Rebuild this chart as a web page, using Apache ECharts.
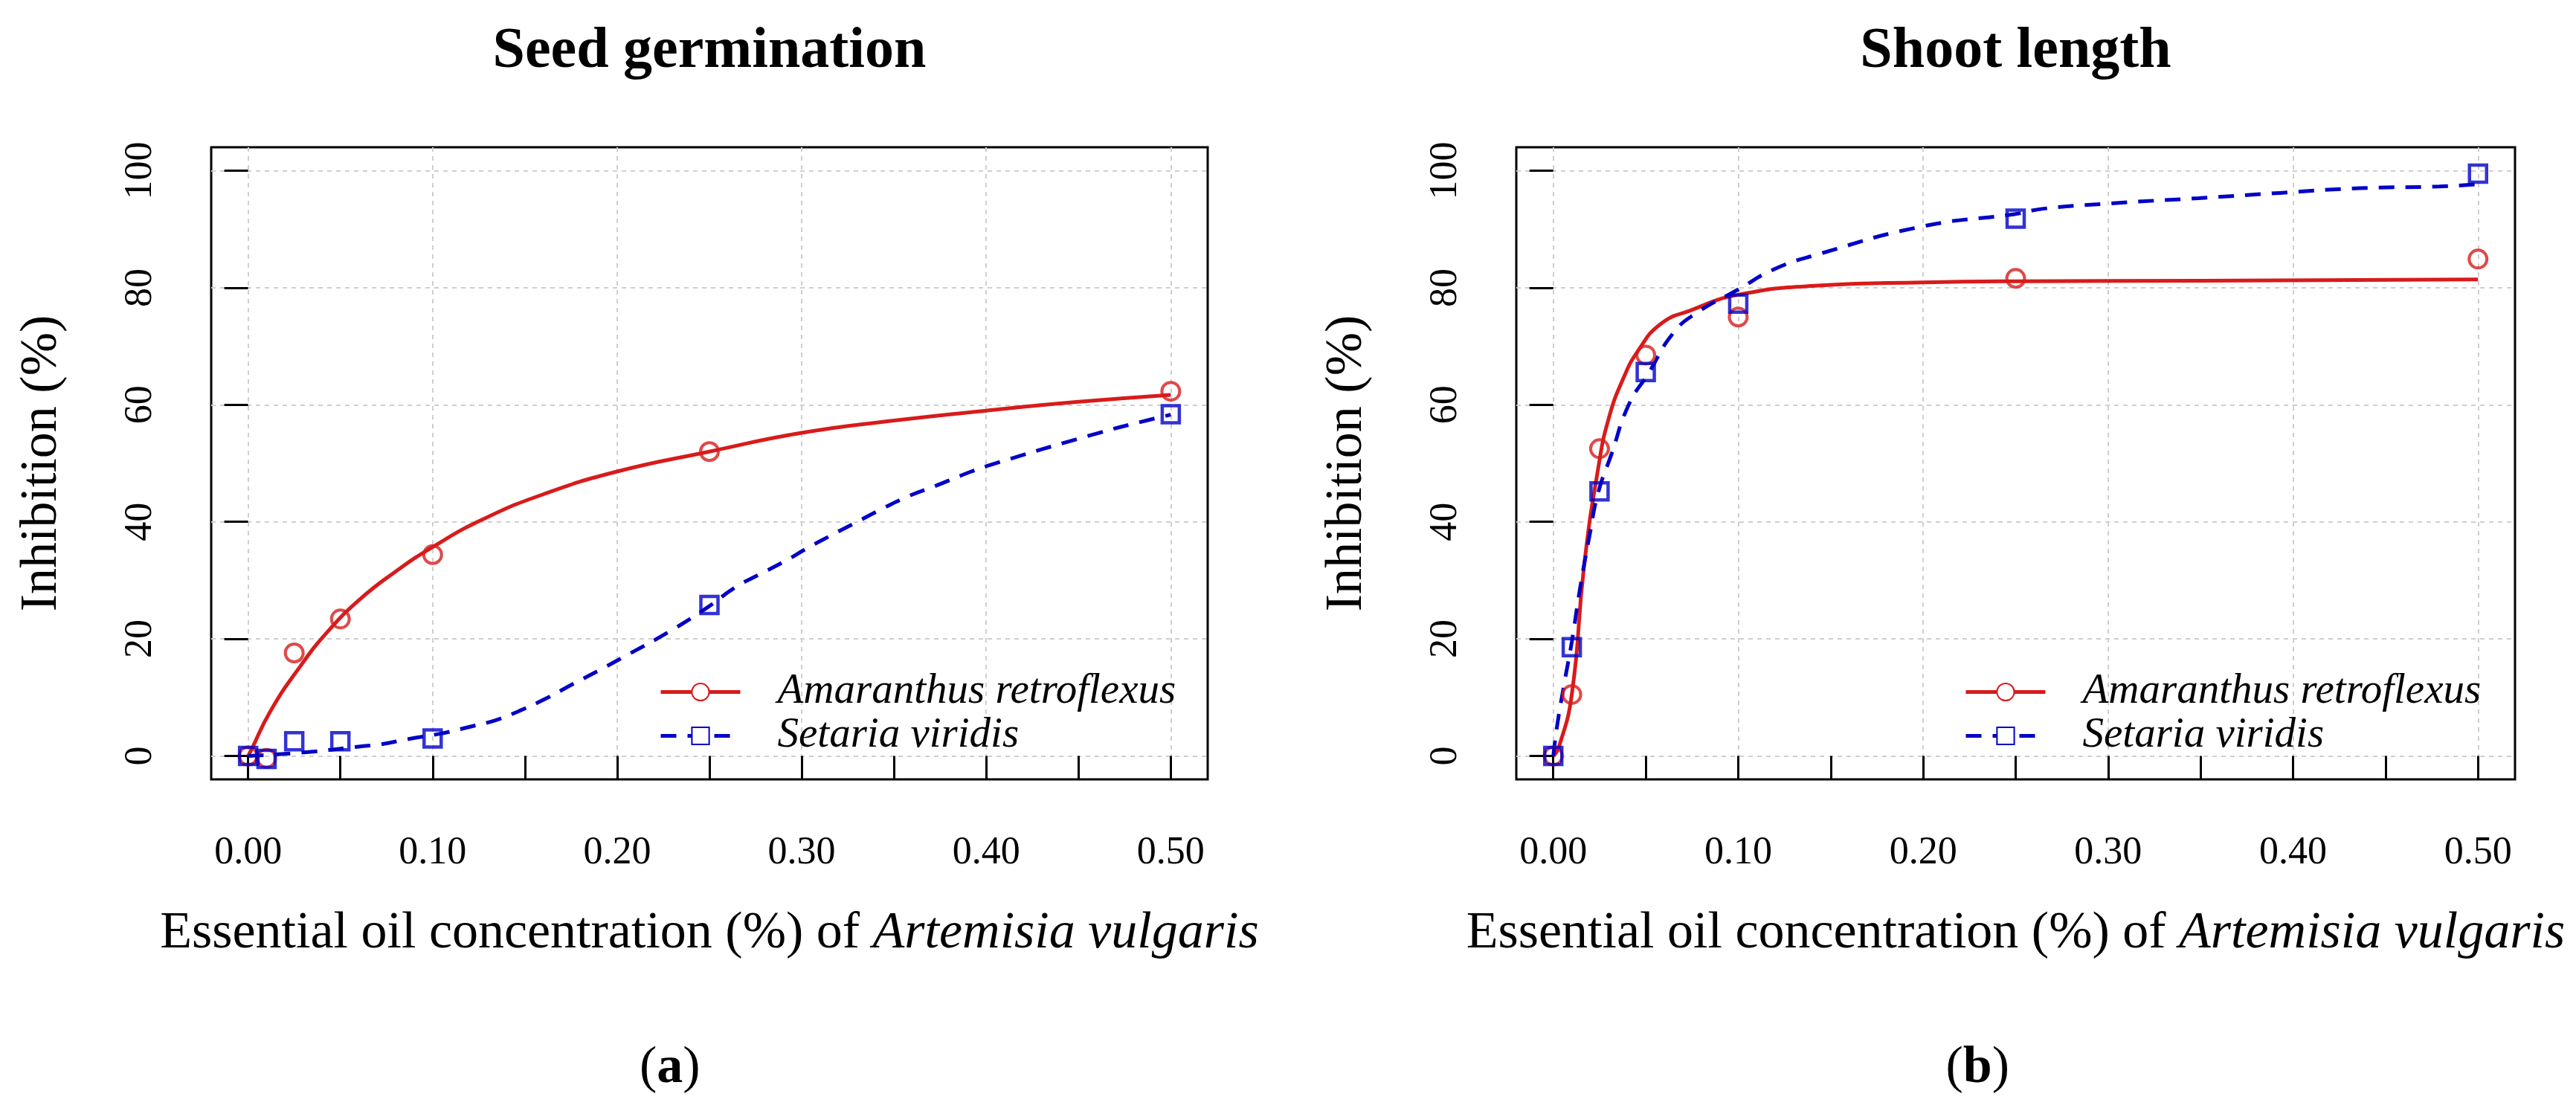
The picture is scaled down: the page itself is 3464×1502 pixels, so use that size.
<!DOCTYPE html>
<html>
<head>
<meta charset="utf-8">
<script src="https://cdn.jsdelivr.net/npm/echarts@6/dist/echarts.min.js"></script>
<style>
html,body{margin:0;padding:0;background:#fff;}
#chartID{width:3464px;height:1502px;}
</style>
</head>
<body>
<div id="chartID"></div>
<script>
//施用浓度 (%)
var doseArray=[0, 0.01, 0.025, 0.05, 0.1, 0.25, 0.5];
//(a) 种子萌发抑制率 实测点
var germAmaArray=[0, -0.4, 17.6, 23.4, 34.4, 52.0, 62.3];
var germSetArray=[0, -0.5, 2.5, 2.5, 3.0, 25.8, 58.4];
//(b) 茎长抑制率 实测点
var shootAmaArray=[0, 10.5, 52.5, 68.5, 75.0, 81.6, 84.9];
var shootSetArray=[0, 18.6, 45.2, 65.6, 77.3, 91.8, 99.5];

//拟合曲线
var germAmaFitX=[0, 0.0015, 0.012, 0.028, 0.043, 0.06, 0.079, 0.1, 0.127, 0.159, 0.2, 0.25, 0.3, 0.35, 0.4, 0.45, 0.5];
var germAmaFitY=[0, 0.9, 7.6, 15.2, 21.2, 26.6, 31.3, 35.7, 40.4, 44.6, 48.6, 52.0, 55.2, 57.3, 59.0, 60.5, 61.7];
var germSetFitX=[0, 0.03, 0.06, 0.072, 0.087, 0.104, 0.119, 0.134, 0.147, 0.162, 0.176, 0.19, 0.204, 0.228, 0.249, 0.264, 0.277, 0.291, 0.303, 0.316, 0.33, 0.344, 0.358, 0.373, 0.387, 0.401, 0.46, 0.488, 0.5];
var germSetFitY=[0, 0.6, 1.6, 2.0, 2.9, 3.8, 4.9, 6.1, 7.7, 9.9, 12.3, 14.6, 17.0, 21.2, 25.4, 28.8, 31.0, 33.3, 35.5, 37.7, 40.0, 42.3, 44.4, 46.2, 48.0, 49.6, 55.1, 57.4, 58.3];
var shootAmaFitX=[0, 0.003, 0.01, 0.0166, 0.0243, 0.03, 0.038, 0.0458, 0.058, 0.074, 0.1, 0.145, 0.2, 0.25, 0.35, 0.5];
var shootAmaFitY=[0, 1.5, 10.5, 32.3, 49.2, 57.7, 64.6, 69.2, 73.8, 76.1, 78.8, 80.4, 80.9, 81.1, 81.2, 81.4];
var shootSetFitX=[0, 0.002, 0.006, 0.01, 0.0144, 0.0198, 0.0243, 0.0314, 0.0408, 0.0515, 0.065, 0.078, 0.1, 0.119, 0.143, 0.2, 0.25, 0.265, 0.306, 0.349, 0.393, 0.436, 0.479, 0.5];
var shootSetFitY=[0, 5.0, 12.5, 19.5, 28.5, 38.0, 45.0, 51.5, 60.0, 65.4, 72.3, 75.8, 79.7, 83.1, 85.7, 90.5, 92.6, 93.5, 94.5, 95.3, 96.2, 97.0, 97.3, 97.7];

var xTickArray=[0, 0.05, 0.1, 0.15, 0.2, 0.25, 0.3, 0.35, 0.4, 0.45, 0.5];
var xLabelArray=[0, 0.1, 0.2, 0.3, 0.4, 0.5];
var yTickArray=[0, 20, 40, 60, 80, 100];
var speciesArray=["Amaranthus retroflexus", "Setaria viridis"];
var panelTitleArray=["Seed germination", "Shoot length"];
var panelTagArray=["a", "b"];

var FONT="'Liberation Serif', 'Times New Roman', serif";
var RED="#d81b1b";
var BLUE="#0000c8";

function pairs(xs, ys){
	var out=[];
	for(var i=0;i<xs.length;i++){ out.push([xs[i], ys[i]]); }
	return out;
}

var panelData=[
	{ama:germAmaArray, set:germSetArray, amaFit:pairs(germAmaFitX, germAmaFitY), setFit:pairs(germSetFitX, germSetFitY)},
	{ama:shootAmaArray, set:shootSetArray, amaFit:pairs(shootAmaFitX, shootAmaFitY), setFit:pairs(shootSetFitX, shootSetFitY)}
];
var gridLeft=[284, 2039];
var gridWidth=[1340, 1343];

var chart=echarts.init(document.getElementById('chartID'));
var grids=[], xAxes=[], yAxes=[], series=[], titles=[], legends=[], graphics=[];

for(var p=0;p<2;p++){
	var left=gridLeft[p];
	var center=left+gridWidth[p]/2;
	grids.push({left:left, top:198, width:gridWidth[p], height:850, show:true, borderColor:'#000', borderWidth:3, backgroundColor:'transparent'});
	//主 x 轴: 刻度与标签
	xAxes.push({
		type:'value', gridIndex:p, min:-0.02, max:0.52, position:'bottom',
		name:'{n|Essential oil concentration (%) of }{i|Artemisia vulgaris}',
		nameLocation:'middle', nameGap:173,
		nameTextStyle:{
			rich:{
				n:{fontFamily:FONT, fontSize:70, color:'#000', lineHeight:70},
				i:{fontFamily:FONT, fontSize:70, fontStyle:'italic', color:'#000', lineHeight:70}
			}
		},
		axisLine:{show:false},
		axisTick:{show:true, inside:false, length:32, customValues:xTickArray, lineStyle:{color:'#000', width:3}},
		axisLabel:{show:true, customValues:xLabelArray, margin:73, fontFamily:FONT, fontSize:52, color:'#000',
			formatter:function(v){ return Number(v).toFixed(2); }},
		splitLine:{show:false}
	});
	//辅助 x 轴: 只画网格线
	xAxes.push({
		type:'value', gridIndex:p, min:-0.02, max:0.52, interval:0.1, position:'top',
		axisLine:{show:false},
		axisTick:{show:false, customValues:xLabelArray},
		axisLabel:{show:false},
		splitLine:{show:true, lineStyle:{color:'#cfcfcf', width:2, type:[6,6]}}
	});
	yAxes.push({
		type:'value', gridIndex:p, min:-4, max:104, interval:20,
		name:'Inhibition (%)', nameLocation:'middle', nameGap:192,
		nameTextStyle:{fontFamily:FONT, fontSize:70, color:'#000'},
		axisLine:{show:false},
		axisTick:{show:true, inside:false, length:32, customValues:yTickArray, lineStyle:{color:'#000', width:3}},
		axisLabel:{show:true, customValues:yTickArray, rotate:90, margin:69, fontFamily:FONT, fontSize:52, color:'#000'},
		splitLine:{show:true, lineStyle:{color:'#cfcfcf', width:2, type:[6,6]}}
	});

	var d=panelData[p];
	series.push({
		name:speciesArray[0], type:'line', xAxisIndex:2*p, yAxisIndex:p,
		data:d.amaFit, smooth:true, showSymbol:false, symbol:'emptyCircle',
		itemStyle:{color:RED}, lineStyle:{color:RED, width:5, type:'solid'}, silent:true, z:3
	});
	series.push({
		name:speciesArray[0], type:'scatter', xAxisIndex:2*p, yAxisIndex:p,
		data:pairs(doseArray, d.ama), symbol:'circle', symbolSize:24,
		itemStyle:{color:'rgba(0,0,0,0)', borderColor:RED, borderWidth:4}, silent:true, z:4
	});
	series.push({
		name:speciesArray[1], type:'line', xAxisIndex:2*p, yAxisIndex:p,
		data:d.setFit, smooth:true, showSymbol:false, symbol:'emptyRect',
		itemStyle:{color:BLUE}, lineStyle:{color:BLUE, width:5, type:[21,15]}, silent:true, z:3
	});
	series.push({
		name:speciesArray[1], type:'scatter', xAxisIndex:2*p, yAxisIndex:p,
		data:pairs(doseArray, d.set), symbol:'rect', symbolSize:23,
		itemStyle:{color:'rgba(0,0,0,0)', borderColor:BLUE, borderWidth:4.5}, silent:true, z:4
	});

	titles.push({
		text:panelTitleArray[p], left:center, top:31, textAlign:'center', padding:0,
		textStyle:{fontFamily:FONT, fontSize:78, fontWeight:'bold', color:'#000'}
	});
	legends.push({
		data:speciesArray, orient:'vertical', left:left+597, top:897, padding:5,
		itemWidth:107, itemHeight:29, itemGap:2, selectedMode:false,
		lineStyle:{width:5},
		textStyle:{fontFamily:FONT, fontSize:57, fontStyle:'italic', color:'#000', lineHeight:57, padding:[0,0,0,45]}
	});
	graphics.push({
		type:'text', left:center-66-28, top:1402,
		style:{
			text:'{p|(}{b|'+panelTagArray[p]+'}{p|)}',
			rich:{
				p:{fontFamily:FONT, fontSize:70, fill:'#000'},
				b:{fontFamily:FONT, fontSize:70, fontWeight:'bold', fill:'#000'}
			}
		}
	});
}

var option={
	backgroundColor:'#fff',
	animation:false,
	title:titles,
	legend:legends,
	grid:grids,
	xAxis:xAxes,
	yAxis:yAxes,
	series:series,
	graphic:graphics
};
chart.setOption(option);
</script>
</body>
</html>
